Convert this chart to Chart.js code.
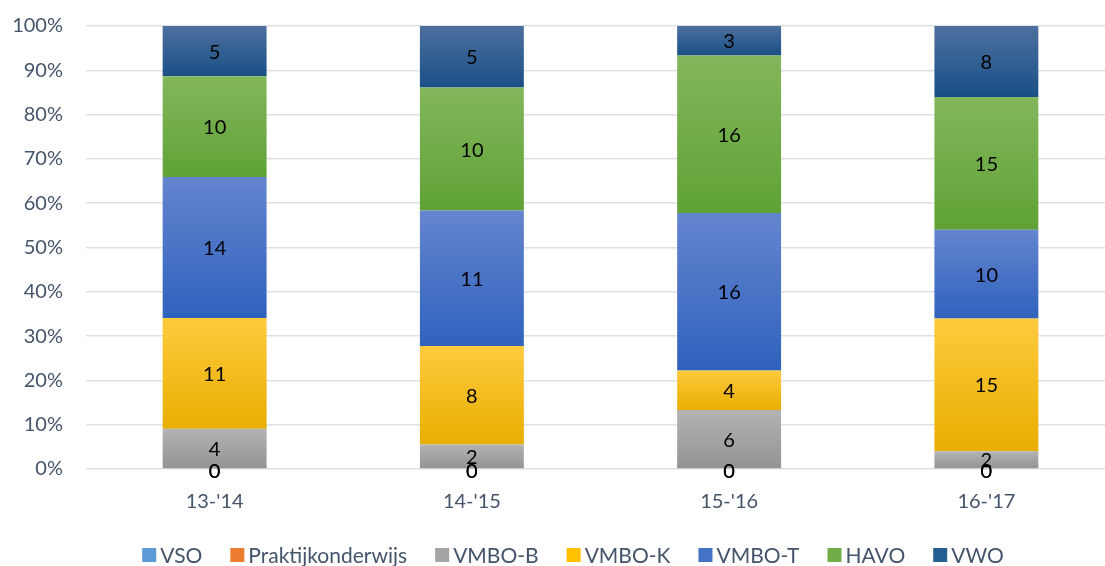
<!DOCTYPE html>
<html>
<head>
<meta charset="utf-8">
<script src="https://cdn.jsdelivr.net/npm/chart.js@4.4.1/dist/chart.umd.min.js"></script>
<style>
  html, body { margin: 0; padding: 0; background: #fff; overflow: hidden; }
  #wrap { width: 1115px; height: 566px; }
</style>
</head>
<body>
<div id="wrap"><canvas id="myChart"></canvas></div>
<script>
const categories = ["13-'14", "14-'15", "15-'16", "16-'17"];

const vso = [0, 0, 0, 0];
const praktijk = [0, 0, 0, 0];
const vmboB = [4, 2, 6, 2];
const vmboK = [11, 8, 4, 15];
const vmboT = [14, 11, 16, 10];
const havo = [10, 10, 16, 15];
const vwo = [5, 5, 3, 8];

const yTicks = ['0%', '10%', '20%', '30%', '40%', '50%', '60%', '70%', '80%', '90%', '100%'];

const series = [
  { label: 'VSO', counts: vso, solid: '#5b9bd5', top: '#6fa8dc', bottom: '#4a8ccb' },
  { label: 'Praktijkonderwijs', counts: praktijk, solid: '#ed7d31', top: '#f08c48', bottom: '#dc6e22' },
  { label: 'VMBO-B', counts: vmboB, solid: '#a5a5a5', top: '#b3b3b3', bottom: '#939393' },
  { label: 'VMBO-K', counts: vmboK, solid: '#ffc000', top: '#ffca3e', bottom: '#e8ae00' },
  { label: 'VMBO-T', counts: vmboT, solid: '#4472c4', top: '#6585cf', bottom: '#2f62bd' },
  { label: 'HAVO', counts: havo, solid: '#70ad47', top: '#82b75b', bottom: '#60a236' },
  { label: 'VWO', counts: vwo, solid: '#255e91', top: '#4d709f', bottom: '#194f86' }
];

// turn counts into 100% stacked shares
const totals = categories.map((c, i) => series.reduce((s, d) => s + d.counts[i], 0));
const pct = series.map(d => d.counts.map((v, i) => v / totals[i] * 100));

function gradFill(si) {
  return (ctx) => {
    const s = series[si];
    const chart = ctx.chart;
    if (!chart.chartArea || ctx.type !== 'data') return s.solid;
    const y = chart.scales.y;
    const i = ctx.dataIndex;
    let lo = 0;
    for (let k = 0; k < si; k++) lo += pct[k][i];
    const hi = lo + pct[si][i];
    const y0 = y.getPixelForValue(hi), y1 = y.getPixelForValue(lo);
    if (y1 - y0 < 1) return s.solid;
    const g = chart.ctx.createLinearGradient(0, y0, 0, y1);
    g.addColorStop(0, s.top);
    g.addColorStop(1, s.bottom);
    return g;
  };
}

const textColor = '#44546a';

const valueLabels = {
  id: 'valueLabels',
  afterDatasetsDraw(chart) {
    const c = chart.ctx;
    c.save();
    c.font = '20px Lato';
    c.fillStyle = '#000';
    c.textAlign = 'center';
    c.textBaseline = 'middle';
    series.forEach((s, si) => {
      chart.getDatasetMeta(si).data.forEach((bar, i) => {
        const zero = s.counts[i] === 0 ? 3 : 1;
        c.fillText(s.counts[i], bar.x, (bar.y + bar.base) / 2 + zero);
      });
    });
    c.restore();
  }
};

// excel-like legend: small square, tight gap, centred under the chart
const bottomLegend = {
  id: 'bottomLegend',
  afterDraw(chart) {
    const c = chart.ctx;
    const box = 14, gap = 4, spacing = 28, cx = 573, cy = 555;
    c.save();
    c.font = '21px Lato';
    c.textBaseline = 'middle';
    const widths = series.map(s => c.measureText(s.label).width);
    const total = widths.reduce((a, w) => a + box + gap + w, 0) + spacing * (series.length - 1);
    let x = cx - total / 2;
    series.forEach((s, si) => {
      c.fillStyle = s.solid;
      c.fillRect(x, cy - box / 2, box, box);
      c.fillStyle = textColor;
      c.fillText(s.label, x + box + gap, cy + 1);
      x += box + gap + widths[si] + spacing;
    });
    c.restore();
  }
};

const ctx = document.getElementById('myChart').getContext('2d');
const chart = new Chart(ctx, {
  type: 'bar',
  data: {
    labels: categories,
    datasets: series.map((s, si) => ({
      label: s.label,
      data: pct[si],
      backgroundColor: gradFill(si),
      borderWidth: 0,
      categoryPercentage: 1,
      barPercentage: 0.404
    }))
  },
  options: {
    responsive: true,
    maintainAspectRatio: false,
    animation: false,
    layout: { padding: { top: 26, right: 0, left: 0, bottom: 0 } },
    plugins: {
      tooltip: { enabled: false },
      legend: { display: false }
    },
    scales: {
      x: {
        stacked: true,
        afterFit: (scale) => { scale.height = 97; },
        grid: { display: false },
        border: { display: false },
        ticks: { color: textColor, font: { family: 'Lato', size: 20 }, padding: 13 }
      },
      y: {
        stacked: true,
        min: 0,
        max: 100,
        afterFit: (scale) => {
          scale.width = 86;
          scale.paddingTop = 0;
          scale.paddingBottom = 0;
        },
        grid: { color: '#dde1e6', lineWidth: 1.5, drawTicks: false },
        border: { display: false },
        ticks: {
          stepSize: 10,
          color: textColor,
          font: { family: 'Lato', size: 20 },
          padding: 23,
          callback: (v) => yTicks[Math.round(v / 10)]
        }
      }
    }
  },
  plugins: [valueLabels, bottomLegend]
});
</script>
</body>
</html>
